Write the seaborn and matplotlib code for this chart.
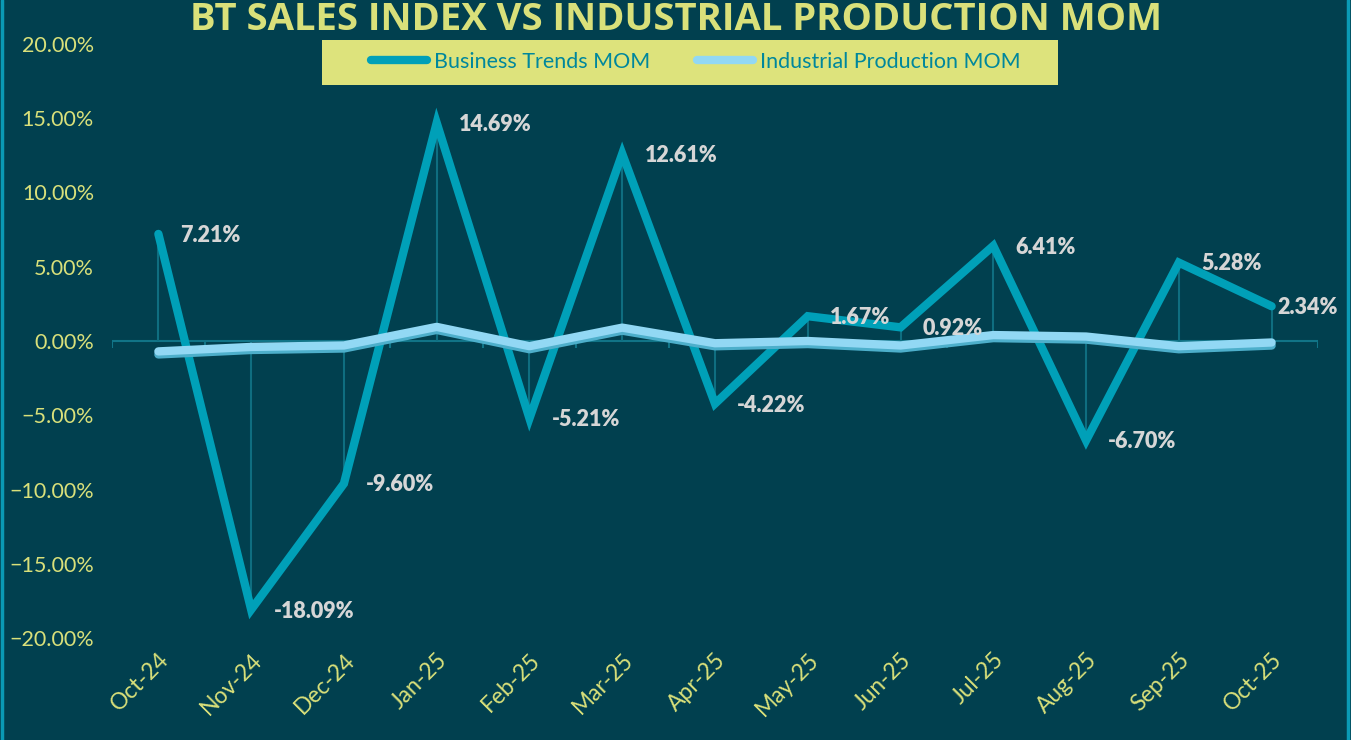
import matplotlib
matplotlib.use("Agg")
import matplotlib.pyplot as plt
import matplotlib.patheffects as pe
from matplotlib.lines import Line2D
from matplotlib.patches import Rectangle
from matplotlib.ticker import PercentFormatter
import seaborn as sns
import pandas as pd
import numpy as np

months = ["Oct-24", "Nov-24", "Dec-24", "Jan-25", "Feb-25", "Mar-25", "Apr-25",
          "May-25", "Jun-25", "Jul-25", "Aug-25", "Sep-25", "Oct-25"]
bt_mom = [7.21, -18.09, -9.60, 14.69, -5.21, 12.61, -4.22, 1.67, 0.92, 6.41, -6.70, 5.28, 2.34]
ip_mom = [-0.70, -0.40, -0.30, 0.95, -0.35, 0.90, -0.15, 0.00, -0.30, 0.40, 0.30, -0.35, -0.10]
yticks = [-20, -15, -10, -5, 0, 5, 10, 15, 20]

BG = "#01404F"
YEL = "#D9E07A"
BT_C = "#00A0B8"
IP_C = "#92D8F4"

sns.set_theme(style="white")
plt.rcParams["font.family"] = ["Lato", "DejaVu Sans"]

fig = plt.figure(figsize=(13.51, 7.40), dpi=100, facecolor=BG)
ax = fig.add_axes([112 / 1351, 1 - 638 / 740, (1318 - 112) / 1351, (638 - 44) / 740])
ax.set_facecolor(BG)

df = pd.DataFrame({"Month": months, "BT": bt_mom, "IP": ip_mom})
x = np.arange(len(months))

# x axis at zero with category boundary ticks
ax.axhline(0, color="#117487", lw=1.5, zorder=1)
bounds = np.arange(len(months) + 1) - 0.5
ax.vlines(bounds, 0, -0.45, color="#117487", lw=1.5, zorder=1)

# drop lines
ax.vlines(x, 0, df["BT"], color="#0F6E80", lw=1.5, zorder=2)

sns.lineplot(data=df, x="Month", y="BT", ax=ax, color=BT_C, lw=6,
             solid_joinstyle="miter", solid_capstyle="round", zorder=3,
             label="Business Trends MOM", legend=False)
sns.lineplot(data=df, x="Month", y="IP", ax=ax, color=IP_C, lw=6,
             solid_capstyle="round", zorder=4,
             path_effects=[pe.SimpleLineShadow(offset=(0, -2.2), shadow_color="#4DAFCB", alpha=1),
                           pe.Normal()],
             label="Industrial Production MOM", legend=False)

for i, v in enumerate(bt_mom):
    dx = 16 if i < len(bt_mom) - 1 else 4
    ax.annotate(f"{v:.2f}%", (i, v), xytext=(dx, -1), textcoords="offset points",
                ha="left", va="center", fontsize=15.5, fontweight="heavy",
                color="#D6D6D6", zorder=5)

ax.set_xlim(-0.5, len(months) - 0.5)
ax.set_ylim(-20, 20)
ax.set_yticks(yticks)
ax.yaxis.set_major_formatter(PercentFormatter(decimals=2))
ax.set_xticks(x)
ax.set_xticklabels(months, rotation=45, ha="right", rotation_mode="anchor")
ax.tick_params(axis="y", length=0, pad=13, labelsize=15.5, labelcolor=YEL)
ax.tick_params(axis="x", length=0, pad=8, labelsize=16.5, labelcolor=YEL)
ax.set_xlabel("")
ax.set_ylabel("")
for s in ax.spines.values():
    s.set_visible(False)
ax.grid(False)

fig.text(0.5, 1 - 20 / 740, "BT SALES INDEX VS INDUSTRIAL PRODUCTION MOM",
         ha="center", va="center", fontsize=27.5, fontweight="bold", color=YEL,
         family=["Open Sans", "DejaVu Sans"])

# legend box
fig.add_artist(Rectangle((322 / 1351, 1 - 85 / 740), 736 / 1351, 45 / 740,
                         transform=fig.transFigure, facecolor="#DDE37C", edgecolor="none", zorder=4))
handles = [Line2D([], [], color=BT_C, lw=6, solid_capstyle="round"),
           Line2D([], [], color=IP_C, lw=6, solid_capstyle="round")]
leg = fig.legend(handles, ["Business Trends MOM", "Industrial Production MOM"],
                 loc="center", bbox_to_anchor=(696 / 1351, 1 - 62 / 740), ncol=2,
                 frameon=False, fontsize=15.5, handlelength=2.6,
                 handletextpad=0.3, columnspacing=2.2, borderpad=0.3, borderaxespad=0)
leg.set_zorder(5)
for t in leg.get_texts():
    t.set_color("#00879C")

fig.add_artist(Line2D([0.0015, 0.0015], [0, 1], transform=fig.transFigure, color="#0A9AB5", lw=2.5))
fig.add_artist(Line2D([0.9975, 0.9975], [0, 1], transform=fig.transFigure, color="#0A9AB5", lw=2.5))

fig.savefig("out.png", dpi=100, facecolor=BG)
